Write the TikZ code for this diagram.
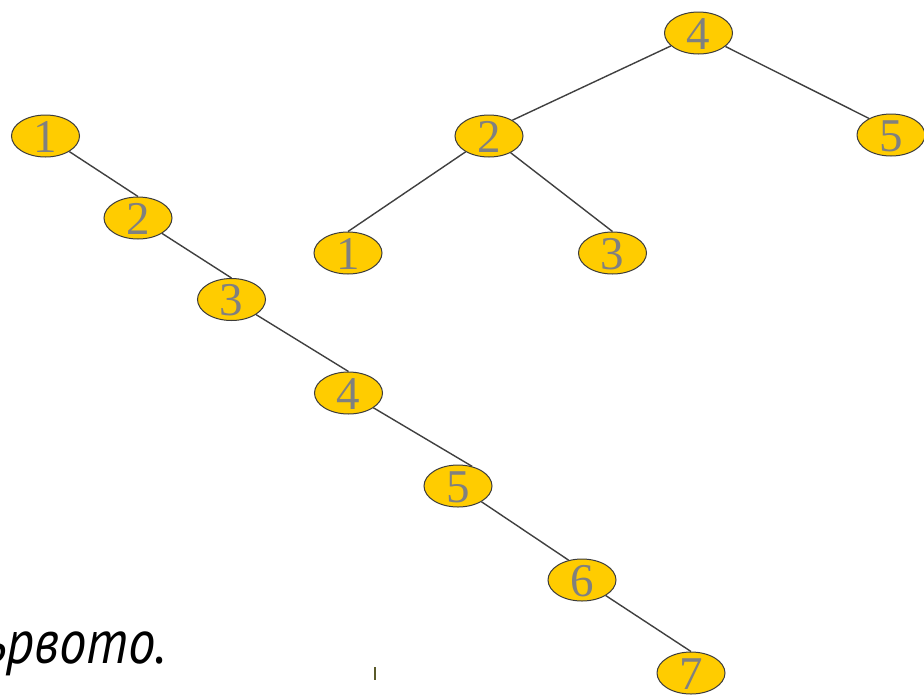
\documentclass[tikz,border=0pt]{standalone}
\usepackage{fontspec}
\setmainfont{Liberation Serif}
\newfontfamily\captionfont{PT Sans}
\usetikzlibrary{shapes.geometric}
\definecolor{nodefill}{HTML}{FFCC00}
\definecolor{nodeline}{HTML}{3C3C3C}
\definecolor{digitgray}{HTML}{808080}
\definecolor{edgegray}{HTML}{404040}
\definecolor{markolive}{HTML}{5A5A2A}
\tikzset{
  treenode/.style={ellipse, draw=nodeline, line width=1pt, fill=nodefill,
    minimum width=68pt, minimum height=42pt, inner sep=0pt,
    text=digitgray, font=\fontsize{47}{47}\selectfont},
  edge/.style={draw=edgegray, line width=1.4pt}
}
\newcommand{\dg}[1]{\smash{\raisebox{-16pt}{#1}}}
\begin{document}
\begin{tikzpicture}[x=1pt,y=-1pt]
\clip (0,0) rectangle (924,694);
\fill[white] (0,0) rectangle (924,694);
% edges first (below nodes)
\coordinate (pa1) at (45.5,136);
\coordinate (pa2) at (138,218);
\coordinate (pa3) at (231.5,299.5);
\coordinate (pa4) at (348.5,393);
\coordinate (pa5) at (458,486);
\coordinate (pa6) at (582,580);
\coordinate (pa7) at (691,673);
\coordinate (pb4) at (698.5,33);
\coordinate (pb2) at (489,136);
\coordinate (pb5) at (891,135);
\coordinate (pb1) at (348,253);
\coordinate (pb3) at (612.5,253);
% left chain
\node[treenode] (a1) at (pa1) {\dg{1}};
\node[treenode] (a2) at (pa2) {\dg{2}};
\node[treenode] (a3) at (pa3) {\dg{3}};
\node[treenode] (a4) at (pa4) {\dg{4}};
\node[treenode] (a5) at (pa5) {\dg{5}};
\node[treenode] (a6) at (pa6) {\dg{6}};
\node[treenode] (a7) at (pa7) {\dg{7}};
% right tree
\node[treenode] (b4) at (pb4) {\dg{4}};
\node[treenode] (b2) at (pb2) {\dg{2}};
\node[treenode] (b5) at (pb5) {\dg{5}};
\node[treenode] (b1) at (pb1) {\dg{1}};
\node[treenode] (b3) at (pb3) {\dg{3}};
\path[edge] (a1) -- (a2.north);
\path[edge] (a2) -- (a3.north);
\path[edge] (a3) -- (a4.north);
\path[edge] (a4) -- (a5.54);
\path[edge] (a5) -- (a6.124);
\path[edge] (a6) -- (a7.north);
\path[edge] (b4) -- (b2.34);
\path[edge] (b4) -- (b5.143);
\path[edge] (b2) -- (b1.north);
\path[edge] (b2) -- (b3.north);
% caption
\node[anchor=base east, inner sep=0pt, font=\captionfont\itshape\fontsize{62}{62}\selectfont] (cap) at (166,663) {\scalebox{0.88}[1]{ървото.}};
% small mark
\coordinate (m1) at (374.5,667);
\coordinate (m2) at (374.5,680);
\draw[markolive, line width=2pt] (m1) -- (m2);
\end{tikzpicture}
\end{document}
